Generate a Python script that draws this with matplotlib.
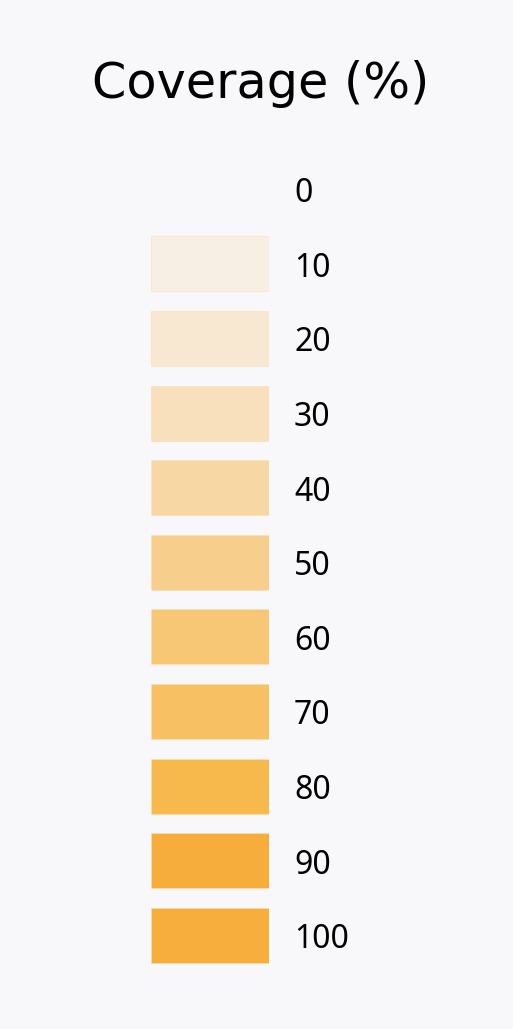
import matplotlib.pyplot as plt

levels = [0, 10, 20, 30, 40, 50, 60, 70, 80, 90, 100]
colors = ['#f8f8fa', '#f8efe4', '#f8e7d1', '#f8e0bc', '#f7d8a4', '#f7ce8b',
          '#f7c776', '#f7c062', '#f7b84c', '#f7ad3b', '#f7ae3c']
title = 'Coverage (%)'

bg = '#f8f8fa'
fig = plt.figure(figsize=(5.13, 10.29), dpi=100, facecolor=bg)
ax = fig.add_axes([151/513, 1 - 972.5/1029, 118/513, (972.5 - 152.0)/1029])
ax.set_facecolor(bg)

ys = list(range(len(levels)))
ax.barh(ys, [1] * len(levels), left=0, height=0.737, color=colors,
        edgecolor=[c if i == 0 else '#fbe0b0' for i, c in enumerate(colors)],
        linewidth=0.4)
for y, lv in zip(ys, levels):
    ax.text(1.212, y + 0.06, str(lv), ha='left', va='center', fontsize=23,
            family='Noto Sans', color='black')

ax.set_xlim(0, 1)
ax.set_ylim(len(levels) - 0.5, -0.5)
ax.axis('off')

fig.text(0.508, 1 - 84/1029, title, ha='center', va='center', fontsize=35.5,
         family='DejaVu Sans', color='black')

fig.savefig('out.png', dpi=100, facecolor=bg)
